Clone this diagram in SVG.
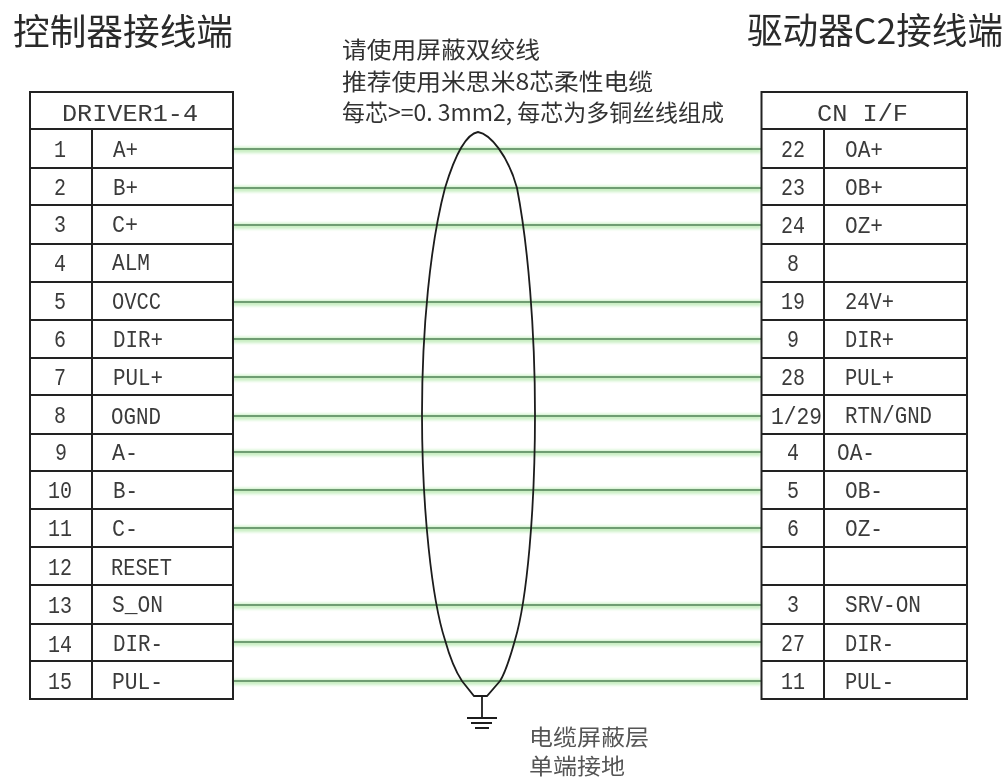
<svg xmlns="http://www.w3.org/2000/svg" width="1006" height="778" viewBox="0 0 1006 778">
<defs>
<filter id="soft" x="-5%" y="-5%" width="110%" height="110%"><feGaussianBlur stdDeviation="0.4"/></filter>
<filter id="softer" x="-5%" y="-20%" width="110%" height="140%"><feGaussianBlur stdDeviation="0.7"/></filter>
<filter id="wash" x="-5%" y="-5%" width="110%" height="110%"><feGaussianBlur stdDeviation="1.6"/></filter>
</defs>
<style>
.grid{stroke:#222;stroke-width:2;fill:none}
.t{font-family:"Liberation Mono","Noto Sans CJK SC",monospace;font-size:24px;fill:#3a3a3a}
.m{text-anchor:middle}
.cn{font-family:"Noto Sans CJK SC","Noto Sans",sans-serif;fill:#333}
.title{font-size:36px;fill:#2a2a2a}
.note{font-size:23px;fill:#333}
.sub{font-size:22px;fill:#555}
.glow{stroke:#c9efc2;stroke-width:6;fill:none}
.wire{stroke:#6f9d72;stroke-width:2;fill:none}
.sh{stroke:#1c1c1c;stroke-width:1.8;fill:none}
</style>
<rect width="1006" height="778" fill="#fff"/>
<g filter="url(#soft)">
<text class="cn title" x="13" y="45" textLength="220" lengthAdjust="spacingAndGlyphs">控制器接线端</text>
<text class="cn title" x="747" y="44" textLength="256" lengthAdjust="spacingAndGlyphs">驱动器C2接线端</text>
</g>
<g id="note" filter="url(#soft)">
<text class="cn note" x="342" y="58" textLength="198" lengthAdjust="spacingAndGlyphs">请使用屏蔽双绞线</text>
<text class="cn note" x="342" y="90" textLength="311" lengthAdjust="spacingAndGlyphs">推荐使用米思米8芯柔性电缆</text>
<text class="cn note" x="342" y="121" textLength="382" lengthAdjust="spacingAndGlyphs">每芯&gt;=0. 3mm2, 每芯为多铜丝线组成</text>
</g>
<g id="connectors">
<path class="glow" filter="url(#wash)" d="M233 150H761M233 189H761M233 226H761M233 303H761M233 340H761M233 378H761M233 417H761M233 453H761M233 491H761M233 529H761M233 606H761M233 643H761M233 682H761"/>
<path class="wire" d="M233 149H761M233 188H761M233 225H761M233 302H761M233 339H761M233 377H761M233 416H761M233 452H761M233 490H761M233 528H761M233 605H761M233 642H761M233 681H761"/>
</g>
<g id="shield">
<path class="sh" d="M478 132C466 134 455 155 445 188C430 245 422 330 422 414C422 510 432 600 445 640C450 658 456 672 462 681L474 696H487L500 681C506 672 510 658 515 640C527 600 535 510 535 414C535 330 528 245 517 188C508 155 490 134 478 132Z"/>
<path class="sh" d="M482 696V718M467 718H497M471 723H492M475 728H489"/>
</g>
<g id="shield-note" filter="url(#softer)">
<text class="cn sub" x="529" y="745" textLength="120" lengthAdjust="spacingAndGlyphs">电缆屏蔽层</text>
<text class="cn sub" x="529" y="774" textLength="96" lengthAdjust="spacingAndGlyphs">单端接地</text>
</g>
<g id="table-driver">
<path class="grid" d="M30 92H233V699H30ZM30 129H233M30 168H233M30 205H233M30 244H233M30 282H233M30 320H233M30 358H233M30 395H233M30 434H233M30 471H233M30 509H233M30 547H233M30 585H233M30 624H233M30 661H233M92 129V699"/>
<g filter="url(#soft)">
<text class="t" x="62" y="121" textLength="136" lengthAdjust="spacingAndGlyphs">DRIVER1-4</text>
<text class="t m" x="60" y="157" textLength="12" lengthAdjust="spacingAndGlyphs">1</text><text class="t" x="113" y="157" textLength="25" lengthAdjust="spacingAndGlyphs">A+</text>
<text class="t m" x="60" y="195" textLength="12" lengthAdjust="spacingAndGlyphs">2</text><text class="t" x="113" y="195" textLength="25" lengthAdjust="spacingAndGlyphs">B+</text>
<text class="t m" x="60" y="232" textLength="12" lengthAdjust="spacingAndGlyphs">3</text><text class="t" x="112" y="232" textLength="26" lengthAdjust="spacingAndGlyphs">C+</text>
<text class="t m" x="60" y="271" textLength="12" lengthAdjust="spacingAndGlyphs">4</text><text class="t" x="112" y="270" textLength="38" lengthAdjust="spacingAndGlyphs">ALM</text>
<text class="t m" x="60" y="309" textLength="12" lengthAdjust="spacingAndGlyphs">5</text><text class="t" x="112" y="309" textLength="49" lengthAdjust="spacingAndGlyphs">OVCC</text>
<text class="t m" x="60" y="347" textLength="12" lengthAdjust="spacingAndGlyphs">6</text><text class="t" x="113" y="347" textLength="50" lengthAdjust="spacingAndGlyphs">DIR+</text>
<text class="t m" x="60" y="385" textLength="12" lengthAdjust="spacingAndGlyphs">7</text><text class="t" x="113" y="385" textLength="50" lengthAdjust="spacingAndGlyphs">PUL+</text>
<text class="t m" x="60" y="423" textLength="12" lengthAdjust="spacingAndGlyphs">8</text><text class="t" x="111" y="424" textLength="50" lengthAdjust="spacingAndGlyphs">OGND</text>
<text class="t m" x="61" y="460" textLength="12" lengthAdjust="spacingAndGlyphs">9</text><text class="t" x="112" y="460" textLength="26" lengthAdjust="spacingAndGlyphs">A-</text>
<text class="t m" x="60" y="498" textLength="24" lengthAdjust="spacingAndGlyphs">10</text><text class="t" x="113" y="498" textLength="25" lengthAdjust="spacingAndGlyphs">B-</text>
<text class="t m" x="60" y="536" textLength="24" lengthAdjust="spacingAndGlyphs">11</text><text class="t" x="112" y="536" textLength="26" lengthAdjust="spacingAndGlyphs">C-</text>
<text class="t m" x="60" y="575" textLength="24" lengthAdjust="spacingAndGlyphs">12</text><text class="t" x="111" y="575" textLength="61" lengthAdjust="spacingAndGlyphs">RESET</text>
<text class="t m" x="60" y="613" textLength="24" lengthAdjust="spacingAndGlyphs">13</text><text class="t" x="112" y="612" textLength="51" lengthAdjust="spacingAndGlyphs">S_ON</text>
<text class="t m" x="60" y="652" textLength="24" lengthAdjust="spacingAndGlyphs">14</text><text class="t" x="113" y="651" textLength="50" lengthAdjust="spacingAndGlyphs">DIR-</text>
<text class="t m" x="60" y="689" textLength="24" lengthAdjust="spacingAndGlyphs">15</text><text class="t" x="112" y="689" textLength="51" lengthAdjust="spacingAndGlyphs">PUL-</text>
</g>
</g>
<g id="table-cn">
<path class="grid" d="M761.500 92H967V699H761.500ZM761.500 129H967M761.500 168H967M761.500 205H967M761.500 244H967M761.500 282H967M761.500 320H967M761.500 358H967M761.500 395H967M761.500 434H967M761.500 471H967M761.500 509H967M761.500 547H967M761.500 585H967M761.500 624H967M761.500 661H967M824 129V699"/>
<g filter="url(#soft)">
<text class="t" x="817" y="121" textLength="91" lengthAdjust="spacingAndGlyphs" xml:space="preserve">CN I/F</text>
<text class="t m" x="793" y="157" textLength="24" lengthAdjust="spacingAndGlyphs">22</text><text class="t" x="845" y="157" textLength="38" lengthAdjust="spacingAndGlyphs">OA+</text>
<text class="t m" x="793" y="195" textLength="24" lengthAdjust="spacingAndGlyphs">23</text><text class="t" x="845" y="195" textLength="38" lengthAdjust="spacingAndGlyphs">OB+</text>
<text class="t m" x="793" y="233" textLength="24" lengthAdjust="spacingAndGlyphs">24</text><text class="t" x="845" y="233" textLength="38" lengthAdjust="spacingAndGlyphs">OZ+</text>
<text class="t m" x="793" y="271" textLength="12" lengthAdjust="spacingAndGlyphs">8</text>
<text class="t m" x="793" y="309" textLength="24" lengthAdjust="spacingAndGlyphs">19</text><text class="t" x="845" y="309" textLength="49" lengthAdjust="spacingAndGlyphs">24V+</text>
<text class="t m" x="793" y="347" textLength="12" lengthAdjust="spacingAndGlyphs">9</text><text class="t" x="845" y="347" textLength="49" lengthAdjust="spacingAndGlyphs">DIR+</text>
<text class="t m" x="793" y="385" textLength="24" lengthAdjust="spacingAndGlyphs">28</text><text class="t" x="845" y="385" textLength="49" lengthAdjust="spacingAndGlyphs">PUL+</text>
<text class="t" x="771" y="424" textLength="51" lengthAdjust="spacingAndGlyphs">1/29</text><text class="t" x="845" y="423" textLength="87" lengthAdjust="spacingAndGlyphs">RTN/GND</text>
<text class="t m" x="793" y="460" textLength="12" lengthAdjust="spacingAndGlyphs">4</text><text class="t" x="837" y="460" textLength="38" lengthAdjust="spacingAndGlyphs">OA-</text>
<text class="t m" x="793" y="498" textLength="12" lengthAdjust="spacingAndGlyphs">5</text><text class="t" x="845" y="498" textLength="38" lengthAdjust="spacingAndGlyphs">OB-</text>
<text class="t m" x="793" y="536" textLength="12" lengthAdjust="spacingAndGlyphs">6</text><text class="t" x="845" y="536" textLength="38" lengthAdjust="spacingAndGlyphs">OZ-</text>
<text class="t m" x="793" y="612" textLength="12" lengthAdjust="spacingAndGlyphs">3</text><text class="t" x="845" y="612" textLength="76" lengthAdjust="spacingAndGlyphs">SRV-ON</text>
<text class="t m" x="793" y="651" textLength="24" lengthAdjust="spacingAndGlyphs">27</text><text class="t" x="845" y="651" textLength="49" lengthAdjust="spacingAndGlyphs">DIR-</text>
<text class="t m" x="793" y="689" textLength="24" lengthAdjust="spacingAndGlyphs">11</text><text class="t" x="845" y="689" textLength="49" lengthAdjust="spacingAndGlyphs">PUL-</text>
</g>
</g>
</svg>
